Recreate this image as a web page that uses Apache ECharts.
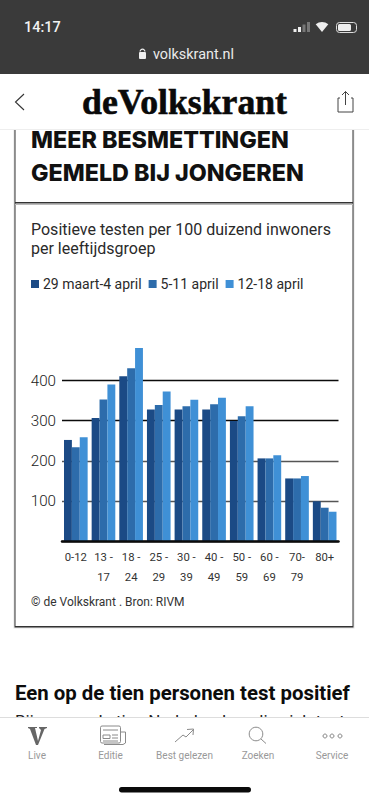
<!DOCTYPE html>
<html><head><meta charset="utf-8">
<style>html,body{margin:0;padding:0;background:#fff}#c{width:369px;height:800px}</style>
<script src="https://cdn.jsdelivr.net/npm/echarts@6/dist/echarts.min.js"></script>
</head><body><div id="c"></div>
<script>
const categories = ['0-12','13 -\n17','18 -\n24','25 -\n29','30 -\n39','40 -\n49','50 -\n59','60 -\n69','70-\n79','80+'];
const week1 = [252,307,411,328,328,328,299,206,156,99];
const week2 = [234,353,431,339,336,341,311,206,156,83];
const week3 = [259,390,481,373,352,357,336,214,162,73];
const seriesNames = ['29 maart-4 april','5-11 april','12-18 april'];
const seriesColors = ['#1b4a85','#2d6cab','#3f90d6'];

const sans = 'Roboto';
const txt = (x,y,text,font,fill,align)=>({type:'text',x,y,z:5,style:{text,font,fill,align:align||'left',verticalAlign:'middle'}});
const rect = (x,y,w,h,fill,z)=>({type:'rect',z:z||1,shape:{x,y,width:w,height:h},style:{fill}});
const tabGrey='#8a8a8a';

const graphics = [
  rect(13.5,129,341,499.5,'#e4e4e4',0),
  rect(14.5,129,339,498.5,'#333',0),
  rect(15.5,129,337,497,'#fff',0),
  rect(15,202,338,1.6,'#333',1),
  rect(15,204,338,1,'#bbb',1),
  txt(31,139.5,'MEER BESMETTINGEN','800 23.3px Inter','#111'),
  txt(31,172,'GEMELD BIJ JONGEREN','800 23.3px Inter','#111'),
  txt(31,229,'Positieve testen per 100 duizend inwoners','400 16px '+sans,'#2a2a2a'),
  txt(31,248,'per leeftijdsgroep','400 16px '+sans,'#2a2a2a'),
  txt(31,602,'© de Volkskrant . Bron: RIVM','400 12px '+sans,'#333'),
  txt(15,693,'Een op de tien personen test positief','700 20.4px Roboto','#0c0c0c'),
  txt(15,721,'Bij een op de tien Nederlanders die zich test','400 17px Roboto','#222'),
  rect(0,0,369,74,'#3a3a3a',8),
  {type:'text',x:24,y:27,z:9,style:{text:'14:17',font:'500 14.5px Roboto',fill:'#f2f2f2',verticalAlign:'middle'}},
  rect(293.5,29,3,3,'#eee',9),rect(298,27,3,5,'#eee',9),rect(302.5,24.5,3,7.5,'#777',9),rect(307,22,3,10,'#777',9),
  {type:'sector',z:9,shape:{cx:322,cy:32,r:10,r0:0,startAngle:-2.25,endAngle:-0.89},style:{fill:'#eee'}},
  {type:'rect',z:9,shape:{x:336.5,y:22.5,width:20,height:10,r:3},style:{fill:'none',stroke:'#ddd',lineWidth:1}},
  {type:'rect',z:9,shape:{x:338,y:24,width:13,height:7,r:1.5},style:{fill:'#eee'}},
  {type:'rect',z:9,shape:{x:139,y:52,width:7,height:7,r:1},style:{fill:'#eee'}},
  {type:'arc',z:9,shape:{cx:142.5,cy:51.5,r:2.4,startAngle:Math.PI,endAngle:0},style:{fill:'none',stroke:'#eee',lineWidth:1.2}},
  {type:'text',x:153,y:54,z:9,style:{text:'volkskrant.nl',font:'400 14.4px Roboto',fill:'#eaeaea',verticalAlign:'middle'}},
  rect(0,74,369,55,'#fff',8),
  rect(0,129,369,1,'#eee',8),
  {type:'polyline',z:9,shape:{points:[[24,94],[15.5,102],[24,110]]},style:{fill:'none',stroke:'#333',lineWidth:1.1}},
  {type:'text',x:184.5,y:102,z:9,style:{text:'deVolkskrant',font:'700 35.7px "Liberation Serif"',fill:'#0a0a0a',stroke:'#0a0a0a',lineWidth:0.6,align:'center',verticalAlign:'middle'}},
  {type:'polyline',z:9,shape:{points:[[340,98],[338,98],[338,112],[353,112],[353,98],[351,98]]},style:{fill:'none',stroke:'#444',lineWidth:1}},
  {type:'polyline',z:9,shape:{points:[[345.5,105],[345.5,91.5]]},style:{fill:'none',stroke:'#444',lineWidth:1}},
  {type:'polyline',z:9,shape:{points:[[342,95],[345.5,91.5],[349,95]]},style:{fill:'none',stroke:'#444',lineWidth:1}},
  rect(0,717,369,83,'#fff',8),
  rect(0,717,369,1,'#ddd',8),
  {type:'polygon',z:9,shape:{points:[[28,727],[37,727],[37,728],[35,728],[38,741],[41,730],[39,728],[39,727],[47,727],[47,728],[44.5,729],[38,745],[36,745],[30,729],[28,728]]},style:{fill:'#666'}},
  {type:'rect',z:9,shape:{x:100.5,y:726,width:20,height:17,r:1.5},style:{fill:'none',stroke:tabGrey,lineWidth:1}},
  {type:'polyline',z:9,shape:{points:[[121,732],[125.5,732],[125.5,743],[123,744.5],[104,744.5]]},style:{fill:'none',stroke:tabGrey,lineWidth:1}},
  {type:'rect',z:9,shape:{x:103,y:735,width:7,height:3.5},style:{fill:'none',stroke:tabGrey,lineWidth:1}},
  ...[[103,730,118],[112,735,118],[112,738,118],[103,741,118]].map(p=>({type:'line',z:9,shape:{x1:p[0],y1:p[1],x2:p[2],y2:p[1]},style:{stroke:tabGrey,lineWidth:1}})),
  {type:'polyline',z:9,shape:{points:[[175,742],[183,735],[186,737],[193,730]]},style:{fill:'none',stroke:tabGrey,lineWidth:1}},
  {type:'polyline',z:9,shape:{points:[[187,729.5],[193.5,729],[193,735]]},style:{fill:'none',stroke:tabGrey,lineWidth:1}},
  {type:'circle',z:9,shape:{cx:256,cy:734,r:6.8},style:{fill:'none',stroke:tabGrey,lineWidth:1}},
  {type:'line',z:9,shape:{x1:261,y1:739,x2:266,y2:743.5},style:{stroke:tabGrey,lineWidth:1}},
  ...[325,332,340].map(cx=>({type:'circle',z:9,shape:{cx,cy:736,r:2},style:{fill:'none',stroke:tabGrey,lineWidth:1}})),
  ...[[37,'Live'],[110.5,'Editie'],[184.5,'Best gelezen'],[258,'Zoeken'],[332,'Service']].map(t=>({type:'text',x:t[0],y:755,z:9,style:{text:t[1],font:'400 10px Roboto',fill:'#999',align:'center',verticalAlign:'middle'}})),
  {type:'rect',z:9,shape:{x:119,y:787,width:132,height:5.5,r:2.7},style:{fill:'#0a0a0a'}}
];

const chart = echarts.init(document.getElementById('c'),null,{renderer:'svg',width:369,height:800});
chart.setOption({
  animation:false,
  textStyle:{fontFamily:sans},
  legend:{
    left:27,top:277,itemWidth:8,itemHeight:8,itemGap:7,icon:'rect',z:4,
    selectedMode:false,padding:[0,4],
    textStyle:{fontFamily:'Roboto',fontSize:14,color:'#2a2a2a',padding:[1,0,0,-1]},
    data:seriesNames
  },
  grid:{left:62,right:30.5,top:340.5,height:200.5},
  xAxis:{
    type:'category',data:categories,z:4,
    axisLine:{lineStyle:{color:'#0b0b0b',width:2.5}},axisTick:{show:false},
    axisLabel:{interval:0,color:'#333',fontFamily:sans,fontSize:11.3,lineHeight:20.5,margin:6,verticalAlign:'top'}
  },
  yAxis:{
    type:'value',min:0,max:500,interval:100,z:2,
    axisLine:{show:false},axisTick:{show:false},
    axisLabel:{color:'#222',fontFamily:sans,fontWeight:300,fontSize:15.2,margin:6,formatter:v=>(v===0||v===500)?'':String(v)},
    splitLine:{lineStyle:{color:['#0b0b0b','#555','#555','#0b0b0b','#0b0b0b','rgba(0,0,0,0)'],width:1.4}}
  },
  series:[week1,week2,week3].map((d,i)=>({
    name:seriesNames[i],type:'bar',data:d,barGap:0,barCategoryGap:'14.5%',
    itemStyle:{color:seriesColors[i]},z:3
  })),
  graphic:{elements:graphics}
});
</script></body></html>
